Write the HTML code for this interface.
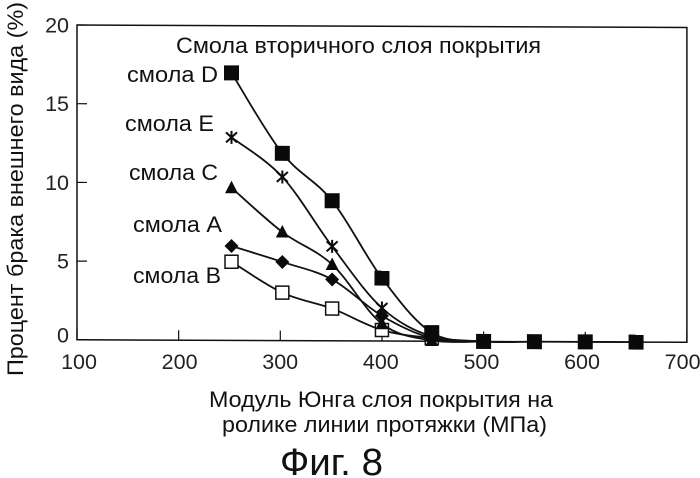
<!DOCTYPE html>
<html lang="ru">
<head>
<meta charset="utf-8">
<title>Фиг. 8</title>
<style>
html,body{margin:0;padding:0;background:#fff;width:700px;height:478px;overflow:hidden}
svg{display:block;font-family:"Liberation Sans",sans-serif;fill:#111}
</style>
</head>
<body>
<svg id="chart" width="700" height="478" viewBox="0 0 700 478" xmlns="http://www.w3.org/2000/svg">
  <g id="axes" transform="matrix(1,0.0041,0,1,0,-0.316)"></g>
  <g id="series" transform="matrix(1,0.0041,0,1,0,-0.316)"></g>
  <g id="ticks"></g>
  <text x="176" y="53" font-size="22" textLength="365" lengthAdjust="spacingAndGlyphs">Смола вторичного слоя покрытия</text>
  <text x="127" y="82" font-size="22" textLength="91" lengthAdjust="spacingAndGlyphs">смола D</text>
  <text x="125" y="131" font-size="22" textLength="89" lengthAdjust="spacingAndGlyphs">смола E</text>
  <text x="129" y="180" font-size="22" textLength="89" lengthAdjust="spacingAndGlyphs">смола C</text>
  <text x="133" y="232" font-size="22" textLength="89" lengthAdjust="spacingAndGlyphs">смола A</text>
  <text x="133" y="283" font-size="22" textLength="88" lengthAdjust="spacingAndGlyphs">смола B</text>
  <text transform="translate(23,376) rotate(-90)" font-size="22" textLength="374" lengthAdjust="spacingAndGlyphs">Процент брака внешнего вида (%)</text>
  <text x="209" y="407" font-size="22" textLength="344" lengthAdjust="spacingAndGlyphs">Модуль Юнга слоя покрытия на</text>
  <text x="222" y="432" font-size="22" textLength="325" lengthAdjust="spacingAndGlyphs">ролике линии протяжки (МПа)</text>
  <text x="280" y="475" font-size="38" textLength="103" lengthAdjust="spacingAndGlyphs">Фиг. 8</text>
</svg>
<script>
var xCategories = [252, 302, 351, 400, 449, 500, 550, 600, 650];
var resinB = [5, 3.05, 2.05, 0.7, 0.2, 0];
var resinA = [6, 5, 3.9, 1.6, 0.2, 0];
var resinC = [9.7, 6.9, 4.85, 1.1, 0.05, 0];
var resinE = [12.9, 10.4, 6, 2.1, 0.3, 0];
var resinD = [17, 11.9, 8.9, 4, 0.55, 0, 0, 0, 0];
var xTickLabels = [100, 200, 300, 400, 500, 600, 700];
var yTickLabels = [0, 5, 10, 15, 20];

var NS = 'http://www.w3.org/2000/svg';
function xScale(v) { return 77 + (v - 100) * 1.0165; }
function yScale(v) { return 339.8 - v * 15.74; }
function tickLabelX(v) { return 79 + (v - 100) * 1.006; }
function make(parent, tag, attrs) {
  var el = document.createElementNS(NS, tag);
  for (var k in attrs) el.setAttribute(k, attrs[k]);
  parent.appendChild(el);
  return el;
}
var axes = document.getElementById('axes');
var seriesLayer = document.getElementById('series');
var ticks = document.getElementById('ticks');

var frame = make(axes, 'rect', {x: xScale(100), y: yScale(20), width: xScale(700) - xScale(100), height: yScale(0) - yScale(20), fill: 'none', stroke: '#111', 'stroke-width': 1.5});



xTickLabels.forEach(function (t) {
  var tick = make(axes, 'line', {x1: xScale(t), x2: xScale(t), y1: yScale(0), y2: yScale(0) - 10, stroke: '#111', 'stroke-width': 1.2});
  
  
  var label = make(ticks, 'text', {x: tickLabelX(t), y: 369, 'font-size': 21.5, 'text-anchor': 'middle', fill: '#222'});
  label.textContent = t;
  
  
});
yTickLabels.forEach(function (t) {
  var tick = make(axes, 'line', {x1: xScale(100), x2: xScale(100) + 10, y1: yScale(t), y2: yScale(t), stroke: '#111', 'stroke-width': 1.2});
  
  
  var label = make(ticks, 'text', {x: 69, y: yScale(t) + (t === 0 ? 2.5 : 7.5), 'font-size': 21.5, 'text-anchor': 'end', fill: '#222'});
  label.textContent = t;
  
  
});

function smoothPath(points) {
  var d = 'M' + points[0][0] + ' ' + points[0][1];
  for (var i = 0; i < points.length - 1; i++) {
    var p0 = points[Math.max(i - 1, 0)], p1 = points[i], p2 = points[i + 1], p3 = points[Math.min(i + 2, points.length - 1)];
    var c1x = p1[0] + (p2[0] - p0[0]) / 6, c1y = p1[1] + (p2[1] - p0[1]) / 6;
    var c2x = p2[0] - (p3[0] - p1[0]) / 6, c2y = p2[1] - (p3[1] - p1[1]) / 6;
    d += 'C' + c1x + ' ' + c1y + ' ' + c2x + ' ' + c2y + ' ' + p2[0] + ' ' + p2[1];
  }
  return d;
}
function drawMarker(g, kind, cx, cy) {
  var el;
  if (kind === 'open-square') {
    el = make(g, 'rect', {x: cx - 6.5, y: cy - 6.5, width: 13, height: 13, fill: '#fff', stroke: '#111', 'stroke-width': 1.5});
  } else if (kind === 'square') {
    el = make(g, 'rect', {x: cx - 7.5, y: cy - 7.5, width: 15, height: 15, fill: '#0a0a0a'});
  } else if (kind === 'diamond') {
    el = make(g, 'polygon', {points: [cx, cy - 7, cx + 7, cy, cx, cy + 7, cx - 7, cy].join(' '), fill: '#0a0a0a'});
  } else if (kind === 'triangle') {
    el = make(g, 'polygon', {points: [cx, cy - 7, cx + 6.5, cy + 5.5, cx - 6.5, cy + 5.5].join(' '), fill: '#0a0a0a'});
  } else {
    el = make(g, 'path', {d: 'M' + (cx - 5.5) + ' ' + (cy - 5) + 'L' + (cx + 5.5) + ' ' + (cy + 5) + 'M' + (cx + 5.5) + ' ' + (cy - 5) + 'L' + (cx - 5.5) + ' ' + (cy + 5) + 'M' + cx + ' ' + (cy - 6.5) + 'V' + (cy + 6.5), fill: 'none', stroke: '#0a0a0a', 'stroke-width': 2});
  }
  
  
}
function drawSeries(values, kind, name) {
  var g = make(seriesLayer, 'g', {});
  
  
  var pts = values.map(function (v, i) { return [xScale(xCategories[i]), yScale(v)]; });
  var line = make(g, 'path', {d: smoothPath(pts), fill: 'none', stroke: '#111', 'stroke-width': 1.8});
  
  
  pts.forEach(function (p) { drawMarker(g, kind, p[0], p[1]); });
}
drawSeries(resinB, 'open-square', 'series-resin-b');
drawSeries(resinC, 'triangle', 'series-resin-c');
drawSeries(resinA, 'diamond', 'series-resin-a');
drawSeries(resinE, 'asterisk', 'series-resin-e');
drawSeries(resinD, 'square', 'series-resin-d');
</script>
</body>
</html>
